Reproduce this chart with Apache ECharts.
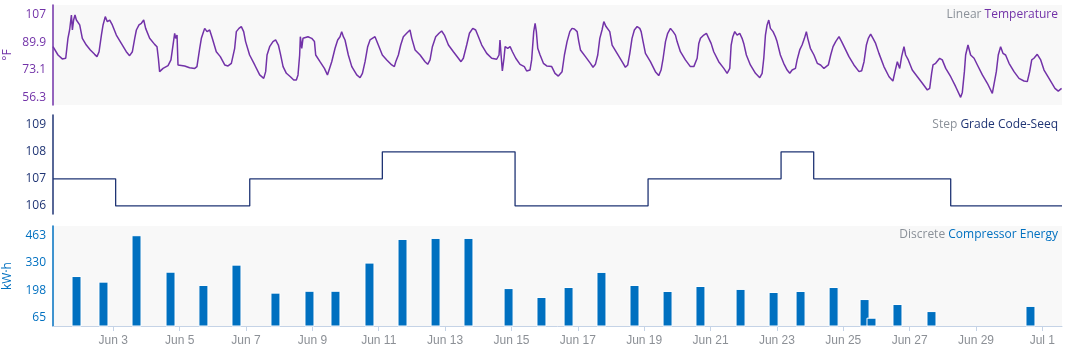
<!DOCTYPE html>
<html>
<head>
<meta charset="utf-8">
<script src="https://cdn.jsdelivr.net/npm/echarts@6/dist/echarts.min.js"></script>
<style>
  html, body { margin: 0; padding: 0; background: #fff; }
  #chart { width: 1066px; height: 352px; }
</style>
</head>
<body>
<div id="chart"></div>
<script>
// all times are hours after Jun 1 00:00
const temperature = [
  [4.4, 87.3], [8.0, 82.2], [11.1, 79.8], [13.6, 80.2], [15.2, 92.4], [16.4, 97.5], [17.7, 106.7], [18.4, 97.5],
  [19.3, 103.6], [20.3, 106.7], [21.3, 103.6], [22.5, 104.7], [23.7, 100.6], [25.6, 92.4], [28.5, 88.3], [31.4, 85.3],
  [34.5, 82.6], [36.2, 81.2], [37.7, 84.2], [39.4, 94.4], [40.6, 100.6], [42.2, 105.7], [43.7, 102.6], [45.4, 103.6],
  [47.3, 100.6], [50.2, 94.4], [53.8, 89.3], [57.4, 84.2], [59.8, 81.8], [61.8, 84.2], [63.5, 92.4], [64.7, 97.5],
  [66.6, 100.6], [68.3, 101.6], [70.0, 103.6], [71.4, 98.5], [74.3, 92.4], [77.9, 88.7], [79.6, 87.3], [80.6, 80.2],
  [81.5, 72.0], [84.0, 74.0], [87.6, 75.7], [89.7, 79.2], [91.2, 88.3], [92.4, 95.5], [93.1, 92.4], [94.1, 94.4],
  [94.8, 76.1], [96.0, 77.1], [99.6, 75.5], [103.2, 74.4], [106.9, 74.0], [108.5, 75.1], [110.5, 86.3], [111.7, 92.4],
  [112.9, 95.5], [114.1, 98.5], [115.8, 96.5], [117.7, 97.5], [119.6, 92.4], [122.5, 84.2], [125.4, 81.2], [128.6, 76.1],
  [131.0, 75.5], [133.4, 77.1], [135.8, 86.3], [137.0, 96.5], [138.9, 98.5], [140.6, 99.6], [142.3, 96.5], [143.7, 90.4],
  [146.6, 82.2], [150.3, 76.1], [153.9, 70.0], [156.8, 67.9], [158.2, 72.0], [159.2, 82.2], [161.1, 87.3], [163.5, 90.4],
  [165.4, 91.4], [167.4, 88.3], [168.8, 83.2], [170.8, 75.1], [173.2, 71.0], [176.1, 68.9], [178.5, 66.9], [180.4, 66.9],
  [181.6, 70.0], [182.8, 82.2], [183.3, 93.4], [184.3, 86.3], [185.2, 92.4], [188.8, 93.4],
  [191.5, 92.4], [193.5, 90.4], [194.4, 82.2], [197.5, 78.1], [200.7, 74.0], [202.9, 70.0], [204.1, 71.0], [206.0, 78.1],
  [208.4, 86.3], [210.3, 91.4], [212.0, 93.4], [213.2, 96.5], [214.4, 93.4], [215.6, 91.4], [218.0, 82.2], [220.5, 75.1],
  [224.1, 70.0], [226.5, 68.3], [228.2, 71.0], [230.1, 78.1], [232.0, 87.3], [233.7, 91.4], [234.9, 90.4], [237.3, 93.4],
  [238.5, 94.0], [239.7, 88.3], [242.6, 82.2], [245.8, 79.2], [249.4, 76.1], [251.3, 75.1], [252.3, 78.1], [254.2, 82.2],
  [255.9, 88.3], [257.8, 93.4], [260.2, 95.5], [262.6, 97.5], [263.9, 92.4], [266.3, 85.3], [269.9, 82.2], [273.5, 78.1],
  [275.4, 76.5], [277.1, 79.2], [278.8, 87.3], [281.2, 93.4], [283.6, 95.5], [285.5, 96.9], [287.5, 94.4], [290.4, 88.3],
  [294.0, 84.2], [297.6, 80.2], [299.5, 78.1], [301.2, 80.2], [303.6, 88.3], [305.6, 95.5], [308.0, 98.5], [310.1, 97.5],
  [312.1, 93.4], [314.5, 88.3], [318.1, 83.2], [321.7, 80.2], [325.3, 79.6], [327.0, 82.2], [327.7, 91.4], [328.5, 82.2],
  [329.4, 72.4], [330.6, 80.2], [331.4, 87.3], [333.3, 86.3], [335.0, 87.3], [336.7, 84.2], [339.1, 80.2], [342.2, 76.5],
  [345.3, 75.1], [347.0, 72.4], [349.4, 73.0], [350.6, 79.2], [352.1, 96.5], [353.1, 101.6], [354.0, 96.5], [355.0, 86.3],
  [356.7, 82.2], [359.1, 77.1], [361.5, 75.5], [365.1, 75.1], [367.5, 71.0], [369.9, 69.3], [371.1, 69.3],
  [372.6, 72.0], [374.3, 82.2], [376.2, 90.4], [378.2, 96.5], [379.8, 98.5], [381.5, 98.1], [383.5, 96.5], [384.7, 90.4],
  [385.9, 85.3], [389.5, 81.2], [393.1, 77.1], [395.0, 74.7], [396.7, 76.5], [398.4, 82.2], [399.9, 92.4], [401.5, 97.5],
  [402.8, 102.6], [404.4, 99.6], [405.6, 100.6], [407.1, 96.5], [408.8, 88.3], [412.4, 83.2], [416.0, 78.1], [418.4, 74.7],
  [420.1, 76.1], [421.6, 83.2], [423.2, 92.4], [424.9, 97.5], [426.9, 99.6], [428.8, 98.5], [429.8, 96.5], [431.2, 90.4],
  [432.9, 83.2], [436.5, 78.1], [440.1, 72.0], [442.5, 69.6], [444.2, 73.0], [445.7, 80.2], [447.4, 90.4], [449.0, 95.5],
  [451.0, 98.5], [452.9, 96.5], [454.6, 94.4], [455.8, 90.4], [458.2, 84.2], [461.8, 79.2], [465.4, 75.1], [467.9, 75.1],
  [470.3, 80.2], [471.5, 89.3], [472.7, 92.4], [475.1, 94.4], [477.0, 95.5], [478.7, 92.4], [480.4, 89.3], [482.3, 84.2],
  [485.9, 78.1], [489.6, 74.0], [492.0, 71.0], [493.9, 74.0], [494.9, 88.3], [496.1, 93.4], [497.5, 96.5], [499.2, 94.4],
  [501.1, 95.5], [502.8, 92.4], [504.0, 89.3], [505.9, 82.2], [508.8, 76.1], [512.5, 71.0], [515.6, 68.3], [517.3, 71.0],
  [518.5, 80.2], [519.7, 94.4], [520.9, 100.6], [522.1, 103.6], [523.3, 98.5], [525.2, 96.5], [526.9, 93.4], [528.1, 90.4],
  [530.5, 82.2], [532.9, 77.1], [535.4, 73.0], [537.3, 71.0], [539.0, 73.0], [541.4, 74.0], [542.6, 79.2], [544.5, 85.3],
  [546.2, 88.3], [547.9, 92.4], [549.3, 96.5], [550.3, 92.4], [552.2, 86.3], [553.4, 85.3],
  [554.8, 82.2], [557.2, 77.1], [559.6, 76.1], [562.0, 74.0], [563.3, 73.6], [565.2, 76.1], [566.9, 82.2], [568.6, 87.3],
  [570.5, 90.4], [572.9, 93.4], [574.8, 90.4], [577.2, 86.3], [580.1, 81.2], [583.7, 76.1], [587.4, 72.0], [589.3, 72.6],
  [591.0, 78.1], [592.7, 88.3], [594.1, 92.4], [595.8, 94.9], [597.5, 92.4], [599.4, 89.3], [601.8, 83.2], [605.4, 75.1],
  [609.1, 68.9], [611.9, 66.3], [613.4, 72.0], [615.1, 78.1], [616.8, 74.0], [618.2, 81.2], [619.9, 87.3], [621.1, 82.2],
  [623.0, 79.2], [625.9, 73.0], [629.6, 68.9], [633.2, 64.9], [636.8, 60.8], [638.5, 61.8], [639.9, 71.0], [640.9, 76.1],
  [642.8, 77.1], [645.7, 80.2], [647.6, 79.2], [650.1, 74.0], [653.7, 68.9], [657.3, 62.8], [660.9, 56.3], [662.1, 59.3],
  [663.6, 72.0], [664.5, 82.2], [666.2, 88.3], [668.1, 82.2], [670.6, 80.2], [673.0, 76.1], [676.6, 70.0], [680.2, 64.9],
  [683.8, 58.7], [685.0, 59.7], [686.7, 72.0], [688.1, 82.2], [689.8, 87.3], [691.5, 83.2], [693.4, 82.2], [695.9, 77.1],
  [699.5, 72.0], [703.1, 67.9], [706.7, 66.3], [709.1, 65.9], [710.8, 72.0], [712.3, 79.2], [713.9, 80.2], [716.3, 82.6],
  [718.8, 79.2], [721.2, 73.0], [724.8, 67.9], [729.1, 61.8], [731.5, 60.1], [733.9, 61.8]
]

// grade code changes (value holds until the next change)
const gradeHours = [4.4, 49.7, 146.7, 242.6, 338.6, 434.8, 531.0, 554.6, 653.7, 734.2]
const gradeValues = [107, 106, 107, 108, 106, 107, 108, 107, 106, 106]

const energyHours = [21.4, 40.9, 64.8, 89.4, 113.2, 137.1, 165.3, 189.9, 208.7, 233.3, 257.2, 281.1, 304.9, 333.9, 357.7,
  377.3, 401.1, 425.0, 448.9, 472.7, 501.7, 525.6, 545.1, 569.0, 591.4, 596.4, 615.2, 639.8, 711.4]
const energyValues = [266, 239, 463, 287, 223, 321, 186, 195, 195, 331, 445, 450, 450, 208, 165,
  213, 286, 223, 194, 218, 204, 189, 194, 213, 155, 65, 131, 97, 122]

const tempTicks = [56.3, 73.1, 89.9, 106.7]
const gradeTicks = [106, 107, 108, 109]
const energyTicks = [65, 197.67, 330.33, 463]
const dateTickDays = [3, 5, 7, 9, 11, 13, 15, 17, 19, 21, 23, 25, 27, 29, 31] // of June, 31 = Jul 1
const months = ['Jan', 'Feb', 'Mar', 'Apr', 'May', 'Jun', 'Jul', 'Aug', 'Sep', 'Oct', 'Nov', 'Dec']

const xMin = 4.39
const xMax = 734.2
const dateTicks = dateTickDays.map(d => (d - 1) * 24)

const purple = '#7232a8'
const navy = '#1f3474'
const blue = '#0070c0'
const gray = '#8b9199'
const font = 'Open Sans'

function dateLabel(h) {
  const d = new Date(2018, 5, 1 + Math.round(h / 24))
  return months[d.getMonth()] + ' ' + d.getDate()
}

function xAxisFor(idx, visible) {
  return {
    type: 'value',
    gridIndex: idx,
    min: xMin,
    max: xMax,
    show: visible,
    splitLine: { show: false },
    axisLine: { onZero: false, lineStyle: { color: '#c5d3e6' } },
    axisTick: { show: visible, customValues: dateTicks, length: 5, lineStyle: { color: '#c5d3e6' } },
    axisLabel: {
      show: visible,
      customValues: dateTicks,
      color: '#8c9096',
      fontFamily: 'Liberation Sans',
      fontSize: 12,
      margin: 9,
      formatter: v => dateLabel(v)
    }
  }
}

function yAxisFor(idx, min, max, ticks, color, name) {
  return {
    type: 'value',
    gridIndex: idx,
    min: min,
    max: max,
    name: name,
    nameLocation: 'middle',
    nameGap: 39,
    nameMoveOverlap: false,
    nameTextStyle: { color: color, fontFamily: font, fontSize: 12 },
    axisLine: { show: true, onZero: false, lineStyle: { color: color, width: 1.5 } },
    axisTick: { show: false },
    splitLine: { show: false },
    axisLabel: {
      customValues: ticks,
      color: color,
      fontFamily: font,
      fontSize: 12,
      margin: 7,
      formatter: v => String(Number(v.toPrecision(3)))
    }
  }
}

function titleFor(top, prefix, name, color) {
  return {
    text: '{a|' + prefix + '} {b|' + name + '}',
    right: 8,
    top: top,
    padding: 0,
    textStyle: {
      fontSize: 12,
      fontFamily: font,
      fontWeight: 'normal',
      rich: {
        a: { color: gray, fontSize: 12, fontFamily: font },
        b: { color: color, fontSize: 12, fontFamily: font }
      }
    }
  }
}

const gridBase = { left: 53, right: 4, outerBoundsMode: 'none', containLabel: false }

const chart = echarts.init(document.getElementById('chart'))
chart.setOption({
  animation: false,
  title: [
    titleFor(9, 'Linear', 'Temperature', purple),
    titleFor(119, 'Step', 'Grade Code-Seeq', navy),
    titleFor(229, 'Discrete', 'Compressor Energy', blue)
  ],
  grid: [
    Object.assign({ top: 5, height: 100, show: true, backgroundColor: '#f8f8f8', borderWidth: 0 }, gridBase),
    Object.assign({ top: 115, height: 99 }, gridBase),
    Object.assign({ top: 226, height: 100, show: true, backgroundColor: '#f8f8f8', borderWidth: 0 }, gridBase)
  ],
  xAxis: [xAxisFor(0, false), xAxisFor(1, false), xAxisFor(2, true)],
  yAxis: [
    yAxisFor(0, 51.6, 112.8, tempTicks, purple, '°F'),
    yAxisFor(1, 105.7, 109.36, gradeTicks, navy, ''),
    yAxisFor(2, 25, 507.4, energyTicks, blue, 'kW·h')
  ],
  series: [
    {
      name: 'Temperature',
      type: 'line',
      xAxisIndex: 0,
      yAxisIndex: 0,
      showSymbol: false,
      lineStyle: { color: purple, width: 1.5 },
      data: temperature
    },
    {
      name: 'Grade Code-Seeq',
      type: 'line',
      step: 'end',
      xAxisIndex: 1,
      yAxisIndex: 1,
      showSymbol: false,
      lineStyle: { color: navy, width: 1.3 },
      data: gradeHours.map((h, i) => [h, gradeValues[i]])
    },
    {
      name: 'Compressor Energy',
      type: 'bar',
      xAxisIndex: 2,
      yAxisIndex: 2,
      barWidth: 10,
      itemStyle: { color: blue, borderColor: '#fff', borderWidth: 1 },
      data: energyHours.map((h, i) => [h, energyValues[i]])
    }
  ]
})
</script>
</body>
</html>
